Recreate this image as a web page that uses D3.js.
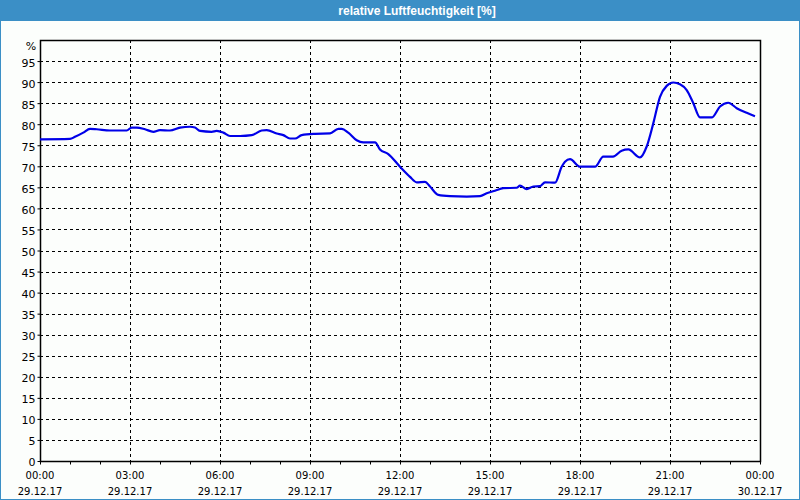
<!DOCTYPE html>
<html><head><meta charset="utf-8">
<script src="https://cdn.jsdelivr.net/npm/d3@7"></script>
<style>
html,body{margin:0;padding:0;background:#fff;}
svg{display:block;}
text{font-family:"DejaVu Sans",Verdana,sans-serif;}
</style></head>
<body>
<svg id="c" width="800" height="500"></svg>
<script>
const title = "relative Luftfeuchtigkeit [%]";
const hours = [0,1.0,1.167,1.443,1.667,1.89,2.333,2.89,3.057,3.223,3.5,3.777,4.0,4.333,4.667,5.0,5.167,5.333,5.723,5.89,6.11,6.333,6.667,7.057,7.39,7.557,7.89,8.11,8.333,8.5,8.723,9.167,9.667,9.943,10.057,10.277,10.557,10.777,11.167,11.333,11.61,12.0,12.333,12.557,12.833,13.0,13.277,13.667,14.223,14.667,14.89,15.167,15.443,15.89,16.0,16.223,16.443,16.667,16.833,17.167,17.39,17.5,17.667,18.0,18.5,18.777,19.1,19.39,19.61,20.0,20.223,20.443,20.667,20.89,21.11,21.333,21.557,21.777,22.0,22.39,22.667,22.943,23.223,23.557,23.833];
const humidity = [76.4,76.5,77.0,78.0,78.9,78.8,78.5,78.5,79.2,79.2,78.8,78.2,78.6,78.5,79.2,79.4,79.2,78.4,78.2,78.4,78.0,77.2,77.2,77.4,78.5,78.6,77.8,77.4,76.6,76.6,77.4,77.7,77.8,78.9,78.9,78.0,76.2,75.7,75.7,74.0,72.9,69.9,67.5,66.2,66.3,65.2,63.2,62.9,62.8,62.9,63.6,64.2,64.8,64.9,65.4,64.6,65.2,65.3,66.2,66.1,69.9,71.1,71.7,69.9,69.9,72.3,72.3,73.7,74.0,72.1,74.7,80.2,86.5,89.1,89.9,89.5,88.1,85.0,81.6,81.6,84.2,85.1,83.8,82.7,81.9];
const xTickTimes = ["00:00","03:00","06:00","09:00","12:00","15:00","18:00","21:00","00:00"];
const xTickDates = ["29.12.17","29.12.17","29.12.17","29.12.17","29.12.17","29.12.17","29.12.17","29.12.17","30.12.17"];
const yTicks = [0,5,10,15,20,25,30,35,40,45,50,55,60,65,70,75,80,85,90,95];
const yUnit = "%";

const svg = d3.select("#c");
const W = 800, H = 500;
const L = 40, R = 760, T = 40, B = 461;
const blue = "#3b8fc6";

svg.append("rect").attr("x",0).attr("y",0).attr("width",W).attr("height",H).attr("fill",blue);
svg.append("rect").attr("x",1).attr("y",21).attr("width",W-2).attr("height",H-22).attr("fill","#fcfefc");
svg.append("text").attr("x",417).attr("y",14.5).attr("text-anchor","middle")
  .attr("fill","#fff").attr("font-weight","bold").attr("font-size","12px")
  .style("font-family","'Liberation Sans',Arial,sans-serif").text(title);

const x = d3.scaleLinear().domain([0,24]).range([L,R]);
const y = d3.scaleLinear().domain([0,100]).range([B,T]);

// grid
const g = svg.append("g");
g.selectAll("line.h").data(yTicks.filter(d=>d>0)).join("line")
  .attr("x1",L).attr("x2",R).attr("y1",d=>Math.round(y(d))+0.5).attr("y2",d=>Math.round(y(d))+0.5)
  .attr("stroke","#000").attr("stroke-width",1).attr("stroke-dasharray","3,3");
g.selectAll("line.v").data(d3.range(3,24,3)).join("line")
  .attr("y1",T).attr("y2",B).attr("x1",d=>Math.round(x(d))+0.5).attr("x2",d=>Math.round(x(d))+0.5)
  .attr("stroke","#000").attr("stroke-width",1).attr("stroke-dasharray","3,3");

// y axis
const ya = svg.append("g").attr("transform",`translate(${L+0.5},0)`)
  .call(d3.axisLeft(y).tickValues(yTicks).tickSize(3).tickPadding(2).tickFormat(d3.format("d")));
ya.select(".domain").remove();
ya.selectAll(".tick line").attr("stroke","#000");
ya.selectAll(".tick text").attr("font-size","11px").attr("fill","#000")
  .style("font-family","'DejaVu Sans',sans-serif").attr("dy","0.45em");
svg.append("text").attr("x",31).attr("y",50).attr("text-anchor","middle").attr("font-size","11px").attr("fill","#000").text(yUnit);

// x axis
const xa = svg.append("g").attr("transform",`translate(0,${B+0.5})`)
  .call(d3.axisBottom(x).tickValues(d3.range(0,25,1)).tickSize(3).tickFormat(""));
xa.select(".domain").remove();
xa.selectAll(".tick line").attr("stroke","#000");
const labs = svg.append("g");
xTickTimes.forEach((t,i)=>{
  const tx = x(i*3);
  const te = labs.append("text").attr("text-anchor","middle").attr("font-size","10px").attr("fill","#000");
  te.append("tspan").attr("x",tx).attr("y",479).text(t);
  te.append("tspan").attr("x",tx).attr("y",495).text(xTickDates[i]);
});

// frame
svg.append("rect").attr("x",L+0.5).attr("y",T+0.5).attr("width",R-L).attr("height",B-T)
  .attr("fill","none").attr("stroke","#000").attr("stroke-width",1.5);

// line
const line = d3.line().x((d,i)=>x(hours[i])).y(d=>y(d)).curve(d3.curveMonotoneX);
svg.append("path").datum(humidity).attr("d",line).attr("fill","none")
  .attr("stroke","#0000e8").attr("stroke-width",2.2).attr("stroke-linejoin","round");
</script>
</body></html>
